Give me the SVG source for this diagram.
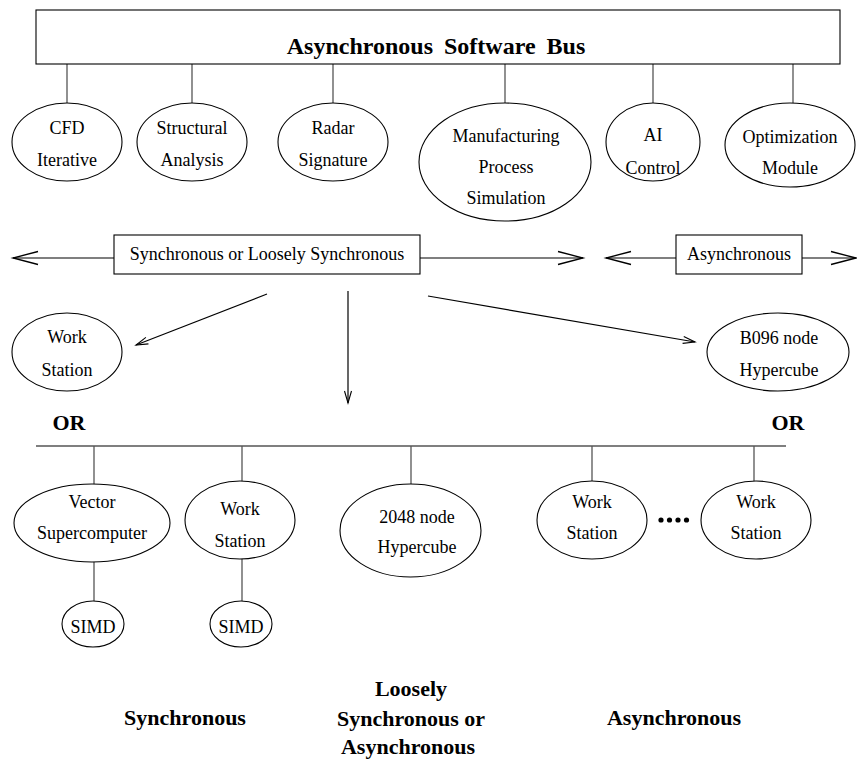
<svg xmlns="http://www.w3.org/2000/svg" width="857" height="761" viewBox="0 0 857 761">
<style>
.t{font-family:"Liberation Serif","Times New Roman",serif;font-size:18px;text-anchor:middle;fill:#000}
.b{font-family:"Liberation Serif","Times New Roman",serif;font-weight:bold;font-size:22px;text-anchor:middle;fill:#000}
.n{fill:#fff;stroke:#000;stroke-width:1.1}
.c{stroke:#000;stroke-width:1.2;fill:none}
.g{stroke:#555;stroke-width:1.3;fill:none}
</style>
<defs>
<marker id="big" markerUnits="userSpaceOnUse" orient="auto" overflow="visible" markerWidth="1" markerHeight="1" refX="0" refY="0">
<path d="M-25,-6.5 L0,0 L-25,6.5" fill="none" stroke="#000" stroke-width="1.3"/>
</marker>
<marker id="small" markerUnits="userSpaceOnUse" orient="auto" overflow="visible" markerWidth="1" markerHeight="1" refX="0" refY="0">
<path d="M-12,-3.5 L0,0 L-12,3.5" fill="none" stroke="#000" stroke-width="1.1"/>
</marker>
</defs>
<rect width="857" height="761" fill="#fff"/>

<g id="connectors">
<line class="g" x1="67" y1="64" x2="67" y2="103"/>
<line class="g" x1="192" y1="64" x2="192" y2="103"/>
<line class="g" x1="333" y1="64" x2="333" y2="103"/>
<line class="g" x1="505" y1="64" x2="505" y2="103"/>
<line class="g" x1="653" y1="64" x2="653" y2="103"/>
<line class="g" x1="793" y1="64" x2="793" y2="103"/>
<line class="c" x1="114" y1="258" x2="13" y2="258" marker-end="url(#big)"/>
<line class="c" x1="420" y1="258" x2="583" y2="258" marker-end="url(#big)"/>
<line class="c" x1="676" y1="258" x2="606" y2="258" marker-end="url(#big)"/>
<line class="c" x1="802" y1="258" x2="856" y2="258" marker-end="url(#big)"/>
<line class="c" x1="267" y1="294" x2="136" y2="345" marker-end="url(#small)"/>
<line class="c" x1="348" y1="291" x2="348" y2="403" marker-end="url(#small)"/>
<line class="c" x1="428" y1="296" x2="695" y2="342" marker-end="url(#small)"/>
<line class="c" x1="36" y1="446" x2="786" y2="446"/>
<line class="g" x1="94" y1="446" x2="94" y2="484"/>
<line class="g" x1="242" y1="446" x2="242" y2="481"/>
<line class="g" x1="411" y1="446" x2="411" y2="484"/>
<line class="g" x1="592" y1="446" x2="592" y2="481"/>
<line class="g" x1="754" y1="446" x2="754" y2="481"/>
<line class="g" x1="94" y1="562" x2="94" y2="601"/>
<line class="g" x1="242" y1="558" x2="242" y2="601"/>
</g>

<g id="bus">
<rect class="n" x="36" y="10" width="804" height="54"/>
<text class="b" x="436" y="54" style="font-size:24px;word-spacing:5px">Asynchronous Software Bus</text>
</g>

<g id="cfd">
<ellipse class="n" cx="67" cy="142" rx="55" ry="39"/>
<text class="t" x="67" y="134">CFD</text>
<text class="t" x="67" y="166">Iterative</text>
</g>
<g id="structural">
<ellipse class="n" cx="192" cy="142" rx="55" ry="39"/>
<text class="t" x="192" y="134">Structural</text>
<text class="t" x="192" y="166">Analysis</text>
</g>
<g id="radar">
<ellipse class="n" cx="333" cy="142" rx="55" ry="39"/>
<text class="t" x="333" y="134">Radar</text>
<text class="t" x="333" y="166">Signature</text>
</g>
<g id="manufacturing">
<ellipse class="n" cx="505" cy="162" rx="86" ry="59"/>
<text class="t" x="506" y="142">Manufacturing</text>
<text class="t" x="506" y="173">Process</text>
<text class="t" x="506" y="204">Simulation</text>
</g>
<g id="ai">
<ellipse class="n" cx="653" cy="142" rx="47" ry="39"/>
<text class="t" x="653" y="141">AI</text>
<text class="t" x="653" y="174">Control</text>
</g>
<g id="optimization">
<ellipse class="n" cx="790" cy="145" rx="65" ry="42"/>
<text class="t" x="790" y="143">Optimization</text>
<text class="t" x="790" y="174">Module</text>
</g>

<g id="sync-box">
<rect class="n" x="114" y="235" width="306" height="39"/>
<text class="t" x="267" y="260">Synchronous or Loosely Synchronous</text>
</g>
<g id="async-box">
<rect class="n" x="676" y="235" width="126" height="39"/>
<text class="t" x="739" y="260">Asynchronous</text>
</g>

<g id="ws-left">
<ellipse class="n" cx="67" cy="352" rx="55" ry="39"/>
<text class="t" x="67" y="343">Work</text>
<text class="t" x="67" y="376">Station</text>
</g>
<g id="b096">
<ellipse class="n" cx="778" cy="352" rx="71" ry="39"/>
<text class="t" x="779" y="344">B096 node</text>
<text class="t" x="779" y="376">Hypercube</text>
</g>

<text class="b" x="69" y="430">OR</text>
<text class="b" x="788" y="430">OR</text>

<g id="vector">
<ellipse class="n" cx="92" cy="523" rx="78" ry="39"/>
<text class="t" x="92" y="508">Vector</text>
<text class="t" x="92" y="539">Supercomputer</text>
</g>
<g id="ws-mid">
<ellipse class="n" cx="240" cy="520" rx="55" ry="39"/>
<text class="t" x="240" y="515">Work</text>
<text class="t" x="240" y="547">Station</text>
</g>
<g id="hc2048">
<ellipse class="n" cx="410.5" cy="530.5" rx="70.5" ry="46.5"/>
<text class="t" x="417" y="523">2048 node</text>
<text class="t" x="417" y="553">Hypercube</text>
</g>
<g id="ws-r1">
<ellipse class="n" cx="592" cy="520" rx="55" ry="39"/>
<text class="t" x="592" y="508">Work</text>
<text class="t" x="592" y="539">Station</text>
</g>
<g id="dots">
<circle cx="661" cy="520" r="2.6"/>
<circle cx="669.5" cy="520" r="2.6"/>
<circle cx="678" cy="520" r="2.6"/>
<circle cx="686.5" cy="520" r="2.6"/>
</g>
<g id="ws-r2">
<ellipse class="n" cx="756" cy="520" rx="55" ry="39"/>
<text class="t" x="756" y="508">Work</text>
<text class="t" x="756" y="539">Station</text>
</g>
<g id="simd1">
<ellipse class="n" cx="93" cy="624" rx="31" ry="23"/>
<text class="t" x="93" y="633">SIMD</text>
</g>
<g id="simd2">
<ellipse class="n" cx="241" cy="624" rx="31" ry="23"/>
<text class="t" x="241" y="633">SIMD</text>
</g>

<text class="b" x="185" y="725">Synchronous</text>
<text class="b" x="411" y="696">Loosely</text>
<text class="b" x="411" y="726">Synchronous or</text>
<text class="b" x="408" y="754">Asynchronous</text>
<text class="b" x="674" y="725">Asynchronous</text>
</svg>
